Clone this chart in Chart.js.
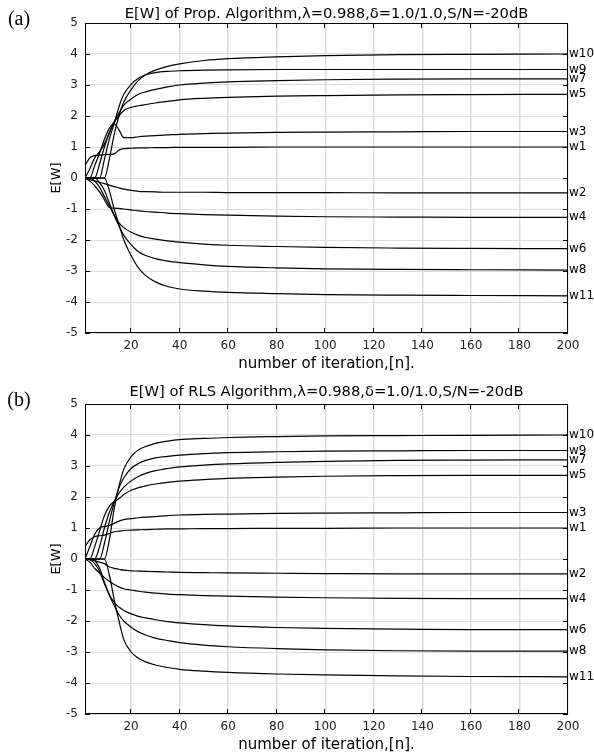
<!DOCTYPE html>
<html>
<head>
<meta charset="utf-8">
<script src="https://cdn.jsdelivr.net/npm/chart.js@4.4.1/dist/chart.umd.min.js"></script>
<style>
  html, body { margin: 0; padding: 0; background: #fff; }
  #wrap { position: relative; width: 594px; height: 755px; }
  canvas { position: absolute; left: 0; }
</style>
</head>
<body>
<div id="wrap">
  <canvas id="chartA" width="594" height="378" style="top:0px"></canvas>
  <canvas id="chartB" width="594" height="377" style="top:378px"></canvas>
</div>
<script>
const iter = [1, 3, 5, 7, 9, 11, 13, 15, 17, 20, 23, 26, 30, 35, 40, 50, 60, 80, 100, 130, 160, 200];
const weightNames = ["w1", "w2", "w3", "w4", "w5", "w6", "w7", "w8", "w9", "w10", "w11"];
const xTicks = [20, 40, 60, 80, 100, 120, 140, 160, 180, 200];
const yTicks = [-5, -4, -3, -2, -1, 0, 1, 2, 3, 4, 5];

// (a) proposed algorithm
const propW1  = [0.4, 0.65, 0.72, 0.74, 0.75, 0.76, 0.78, 0.9, 0.95, 0.96, 0.97, 0.97, 0.98, 0.98, 0.99, 0.99, 0.99, 1.0, 1.0, 1.0, 1.0, 1.0];
const propW2  = [0, -0.05, -0.1, -0.14, -0.18, -0.23, -0.28, -0.32, -0.36, -0.4, -0.43, -0.44, -0.45, -0.46, -0.46, -0.46, -0.47, -0.47, -0.47, -0.48, -0.48, -0.48];
const propW3  = [0, 0.3, 0.65, 0.85, 1.1, 1.45, 1.75, 1.55, 1.3, 1.3, 1.33, 1.35, 1.37, 1.39, 1.41, 1.43, 1.45, 1.47, 1.48, 1.49, 1.5, 1.5];
const propW4  = [0, -0.1, -0.25, -0.45, -0.7, -0.95, -0.97, -0.98, -1.0, -1.03, -1.06, -1.08, -1.1, -1.13, -1.15, -1.18, -1.2, -1.23, -1.25, -1.26, -1.27, -1.27];
const propW5  = [0, 0, 0.4, 0.8, 1.25, 1.6, 1.8, 2.0, 2.18, 2.28, 2.33, 2.37, 2.42, 2.47, 2.52, 2.57, 2.6, 2.64, 2.66, 2.68, 2.69, 2.7];
const propW6  = [0, 0, -0.1, -0.3, -0.6, -0.9, -1.2, -1.45, -1.6, -1.75, -1.85, -1.92, -1.97, -2.03, -2.07, -2.13, -2.17, -2.21, -2.24, -2.26, -2.27, -2.28];
const propW7  = [0, 0, 0, 0.45, 1.0, 1.45, 1.8, 2.1, 2.35, 2.55, 2.7, 2.78, 2.86, 2.94, 3.0, 3.06, 3.1, 3.14, 3.17, 3.19, 3.2, 3.2];
const propW8  = [0, 0, 0, -0.15, -0.4, -0.8, -1.2, -1.55, -1.85, -2.15, -2.38, -2.5, -2.6, -2.68, -2.73, -2.8, -2.85, -2.9, -2.93, -2.95, -2.96, -2.97];
const propW9  = [0, 0, 0, 0, 0.6, 1.25, 1.75, 2.3, 2.7, 3.02, 3.22, 3.33, 3.4, 3.44, 3.46, 3.48, 3.49, 3.5, 3.5, 3.5, 3.5, 3.5];
const propW10 = [0, 0, 0, 0, 0, 0.6, 1.4, 2.0, 2.45, 2.85, 3.15, 3.33, 3.48, 3.6, 3.68, 3.79, 3.85, 3.91, 3.95, 3.98, 3.99, 4.0];
const propW11 = [0, 0, 0, 0, 0, -0.4, -1.0, -1.5, -2.0, -2.5, -2.9, -3.15, -3.35, -3.5, -3.58, -3.65, -3.69, -3.73, -3.76, -3.78, -3.79, -3.8];

// (b) RLS algorithm
const rlsW1  = [0.4, 0.62, 0.72, 0.75, 0.77, 0.82, 0.88, 0.9, 0.92, 0.93, 0.94, 0.95, 0.96, 0.97, 0.97, 0.98, 0.98, 0.99, 0.99, 1.0, 1.0, 1.0];
const rlsW2  = [0, -0.02, -0.05, -0.1, -0.15, -0.25, -0.3, -0.33, -0.36, -0.38, -0.39, -0.4, -0.41, -0.42, -0.43, -0.44, -0.45, -0.46, -0.47, -0.48, -0.48, -0.48];
const rlsW3  = [0, 0.4, 0.8, 1.0, 1.05, 1.08, 1.15, 1.22, 1.27, 1.3, 1.33, 1.35, 1.37, 1.4, 1.42, 1.44, 1.45, 1.47, 1.48, 1.49, 1.5, 1.5];
const rlsW4  = [0, -0.1, -0.3, -0.45, -0.6, -0.72, -0.82, -0.9, -0.96, -1.0, -1.04, -1.07, -1.1, -1.13, -1.15, -1.18, -1.2, -1.23, -1.25, -1.27, -1.28, -1.28];
const rlsW5  = [0, 0, 0.4, 0.9, 1.4, 1.7, 1.85, 1.95, 2.08, 2.22, 2.3, 2.36, 2.42, 2.47, 2.51, 2.56, 2.6, 2.64, 2.67, 2.69, 2.7, 2.7];
const rlsW6  = [0, -0.02, -0.15, -0.4, -0.8, -1.15, -1.4, -1.55, -1.66, -1.77, -1.85, -1.9, -1.96, -2.02, -2.06, -2.12, -2.16, -2.21, -2.24, -2.26, -2.28, -2.28];
const rlsW7  = [0, 0, 0, 0.4, 1.0, 1.5, 1.85, 2.12, 2.32, 2.52, 2.66, 2.76, 2.85, 2.92, 2.97, 3.03, 3.07, 3.12, 3.15, 3.18, 3.19, 3.2];
const rlsW8  = [0, 0, -0.05, -0.3, -0.75, -1.15, -1.5, -1.8, -2.0, -2.2, -2.35, -2.45, -2.55, -2.63, -2.7, -2.78, -2.83, -2.89, -2.93, -2.96, -2.97, -2.97];
const rlsW9  = [0, 0, 0, 0, 0.5, 1.2, 1.8, 2.3, 2.62, 2.92, 3.08, 3.18, 3.26, 3.31, 3.35, 3.4, 3.43, 3.46, 3.48, 3.49, 3.5, 3.5];
const rlsW10 = [0, 0, 0, 0, 0, 0.6, 1.6, 2.35, 2.9, 3.3, 3.52, 3.63, 3.73, 3.8, 3.85, 3.89, 3.92, 3.95, 3.97, 3.98, 3.99, 4.0];
const rlsW11 = [0, 0, 0, 0, 0, -0.5, -1.3, -2.0, -2.6, -3.0, -3.2, -3.32, -3.42, -3.5, -3.56, -3.62, -3.66, -3.71, -3.74, -3.77, -3.79, -3.8];

const propSeries = [propW1, propW2, propW3, propW4, propW5, propW6, propW7, propW8, propW9, propW10, propW11];
const rlsSeries = [rlsW1, rlsW2, rlsW3, rlsW4, rlsW5, rlsW6, rlsW7, rlsW8, rlsW9, rlsW10, rlsW11];

const FONT = "DejaVu Sans";

// frame, inward ticks, titles and the w-labels at the right edge
const panelText = {
    id: "panelText",
    afterDraw(chart, args, o) {
        const { ctx, chartArea: a, scales: { x, y } } = chart;
        ctx.save();
        ctx.strokeStyle = "#000";
        ctx.lineWidth = 1;
        ctx.strokeRect(a.left + 0.5, a.top + 0.5, a.width - 1, a.height - 1);

        ctx.beginPath();
        x.ticks.forEach(t => {
            const p = Math.round(x.getPixelForValue(t.value)) - 0.5;
            ctx.moveTo(p, a.bottom); ctx.lineTo(p, a.bottom - 5);
            ctx.moveTo(p, a.top); ctx.lineTo(p, a.top + 5);
        });
        y.ticks.forEach(t => {
            const p = Math.round(y.getPixelForValue(t.value)) + 0.5;
            ctx.moveTo(a.left, p); ctx.lineTo(a.left + 5, p);
            ctx.moveTo(a.right, p); ctx.lineTo(a.right - 5, p);
        });
        ctx.stroke();

        ctx.fillStyle = "#000";
        ctx.font = "12px " + FONT;
        ctx.textAlign = "left";
        ctx.textBaseline = "middle";
        chart.data.datasets.forEach(ds => {
            const last = ds.data[ds.data.length - 1];
            ctx.fillText(ds.label, a.right + 1, y.getPixelForValue(last.y));
        });

        const cx = (a.left + a.right) / 2;
        ctx.textAlign = "center";
        ctx.font = "14.7px " + FONT;
        ctx.fillText(o.title, cx, a.top - o.titleGap);
        ctx.font = "15px " + FONT;
        ctx.fillText("number of iteration,[n].", cx, a.bottom + 31);

        ctx.save();
        ctx.translate(57, (a.top + a.bottom) / 2);
        ctx.rotate(-Math.PI / 2);
        ctx.font = "13px " + FONT;
        ctx.fillText("E[W]", 0, 0);
        ctx.restore();

        ctx.font = "20px 'Liberation Serif'";
        ctx.fillText(o.letter, 19, a.top - 3);
        ctx.restore();
    }
};

function makeChart(id, series, title, letter, topPad, axisH, titleGap) {
    new Chart(document.getElementById(id), {
        type: "line",
        data: {
            datasets: weightNames.map((name, k) => ({
                label: name,
                data: iter.map((n, i) => ({ x: n, y: series[k][i] })),
                borderColor: "#000",
                borderWidth: 1.2,
                pointRadius: 0,
                fill: false,
                cubicInterpolationMode: "monotone"
            }))
        },
        options: {
            responsive: false,
            animation: false,
            devicePixelRatio: 1,
            layout: { padding: { top: topPad, right: 26, left: 0, bottom: 0 } },
            plugins: {
                legend: { display: false },
                tooltip: { enabled: false },
                panelText: { title: title, letter: letter, titleGap: titleGap }
            },
            scales: {
                x: {
                    type: "linear",
                    min: 1,
                    max: 200,
                    afterBuildTicks: s => { s.ticks = xTicks.map(v => ({ value: v })); },
                    afterFit: s => { s.height = axisH; },
                    grid: { color: "#dcdcdc", lineWidth: 1.5, drawTicks: false },
                    border: { display: false },
                    ticks: { padding: 6, maxRotation: 0, autoSkip: false, color: "#222", font: { family: FONT, size: 12 } }
                },
                y: {
                    min: -5,
                    max: 5,
                    afterBuildTicks: s => { s.ticks = yTicks.map(v => ({ value: v })); },
                    afterFit: s => { s.width = 85; },
                    grid: { color: "#dcdcdc", lineWidth: 1, drawTicks: false },
                    border: { display: false },
                    ticks: { padding: 7, color: "#222", font: { family: FONT, size: 12 } }
                }
            }
        },
        plugins: [panelText]
    });
}

makeChart("chartA", propSeries, "E[W] of Prop. Algorithm,\u03bb=0.988,\u03b4=1.0/1.0,S/N=-20dB", "(a)", 23, 45, 9);
makeChart("chartB", rlsSeries, "E[W] of RLS Algorithm,\u03bb=0.988,\u03b4=1.0/1.0,S/N=-20dB", "(b)", 26, 41, 12);
</script>
</body>
</html>
